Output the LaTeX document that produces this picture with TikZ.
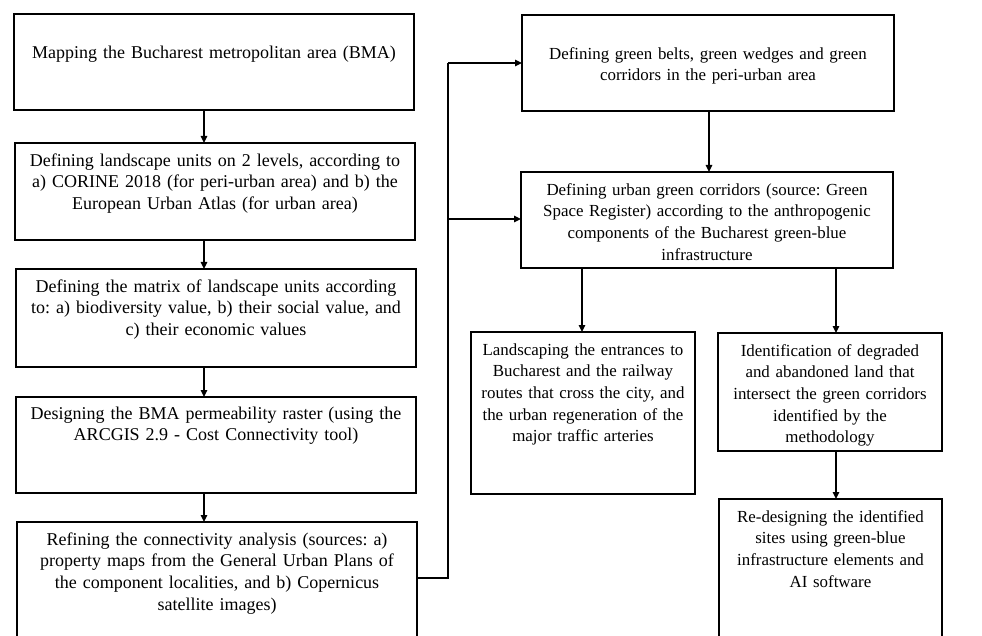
\documentclass[tikz,border=0pt]{standalone}
\usepackage{fontspec}
\setmainfont{Liberation Serif}
\usetikzlibrary{arrows.meta}
\hyphenpenalty=10000
\exhyphenpenalty=10000
\frenchspacing
\begin{document}
\begin{tikzpicture}[x=1pt,y=-1pt,
  box/.style={draw=black, line width=1.5pt, inner sep=0pt, outer sep=0pt},
  txt/.style={anchor=north, inner sep=0pt, align=center, font=\fontsize{18.0}{21.6}\selectfont},
  txtr/.style={txt, font=\fontsize{16.9}{21.6}\selectfont},
  arr/.style={line width=1.4pt, -{Triangle[length=7pt,width=6.5pt]}},
  ln/.style={line width=1.4pt}]
\useasboundingbox (0,0) rectangle (982,636);
\clip (0,0) rectangle (982,636);
% left column boxes
\node[box, minimum width=400pt, minimum height=96pt] (b1) at (214,62) {};
\node[box, minimum width=400pt, minimum height=97pt] (b2) at (215,191.5) {};
\node[box, minimum width=400pt, minimum height=98pt] (b3) at (216,318) {};
\node[box, minimum width=400pt, minimum height=96pt] (b4) at (216,445) {};
\node[box, minimum width=400pt, minimum height=140pt] (b5) at (217,592) {};
% right part boxes
\node[box, minimum width=372pt, minimum height=96pt] (b6) at (708,63) {};
\node[box, minimum width=372pt, minimum height=96pt] (b7) at (707,220) {};
\node[box, minimum width=224pt, minimum height=162pt] (b8) at (583,413) {};
\node[box, minimum width=224pt, minimum height=118pt] (b9) at (830,392) {};
\node[box, minimum width=223pt, minimum height=162pt] (b10) at (830.5,580) {};
% texts
\node[txt, text width=396pt] (t1) at (214,43) {\strut Mapping the Bucharest metropolitan area (BMA)};
\node[txt, text width=396pt] (t2) at (215,151) {\strut Defining landscape units on 2 levels, according to\\ a) CORINE 2018 (for peri-urban area) and b) the\\ European Urban Atlas (for urban area)};
\node[txt, text width=396pt] (t3) at (216,277) {\strut Defining the matrix of landscape units according\\ to: a) biodiversity value, b) their social value, and\\ c) their economic values};
\node[txt, text width=396pt] (t4) at (216,404) {\strut Designing the BMA permeability raster (using the\\ ARCGIS 2.9 - Cost Connectivity tool)};
\node[txt, text width=396pt] (t5) at (217,530) {\strut Refining the connectivity analysis (sources: a)\\ property maps from the General Urban Plans of\\ the component localities, and b) Copernicus\\ satellite images)};
\node[txtr, text width=368pt] (t6) at (708,44) {\strut Defining green belts, green wedges and green\\ corridors in the peri-urban area};
\node[txtr, text width=368pt] (t7) at (707,180) {\strut Defining urban green corridors (source: Green\\ Space Register) according to the anthropogenic\\ components of the Bucharest green-blue\\ infrastructure};
\node[txtr, text width=220pt] (t8) at (583,340) {\strut Landscaping the entrances to\\ Bucharest and the railway\\ routes that cross the city, and\\ the urban regeneration of the\\ major traffic arteries};
\node[txtr, text width=220pt] (t9) at (830,341) {\strut Identification of degraded\\ and abandoned land that\\ intersect the green corridors\\ identified by the\\ methodology};
\node[txtr, text width=219pt] (t10) at (830.5,507) {\strut Re-designing the identified\\ sites using green-blue\\ infrastructure elements and\\ AI software};
% left column arrows
\coordinate (ax) at (204,0);
\draw[arr] (b1.south -| ax) -- (b2.north -| ax);
\draw[arr] (b2.south -| ax) -- (b3.north -| ax);
\draw[arr] (b3.south -| ax) -- (b4.north -| ax);
\draw[arr] (b4.south -| ax) -- (b5.north -| ax);
% connector from b5 to b6 and b7
\coordinate (c1) at (417,578);
\coordinate (c2) at (448,578);
\coordinate (c3) at (448,63);
\coordinate (c4) at (448,219);
\draw[ln] (b5.east |- c1) -- (c2) -- (c3);
\draw[arr] (c3) -- (c3 -| b6.west);
\draw[arr] (c4) -- (c4 -| b7.west);
% right arrows
\coordinate (rx1) at (709,0);
\coordinate (rx2) at (582,0);
\coordinate (rx3) at (836,0);
\draw[arr] (b6.south -| rx1) -- (b7.north -| rx1);
\draw[arr] (b7.south -| rx2) -- (b8.north -| rx2);
\draw[arr] (b7.south -| rx3) -- (b9.north -| rx3);
\draw[arr] (b9.south -| rx3) -- (b10.north -| rx3);
\end{tikzpicture}
\end{document}
